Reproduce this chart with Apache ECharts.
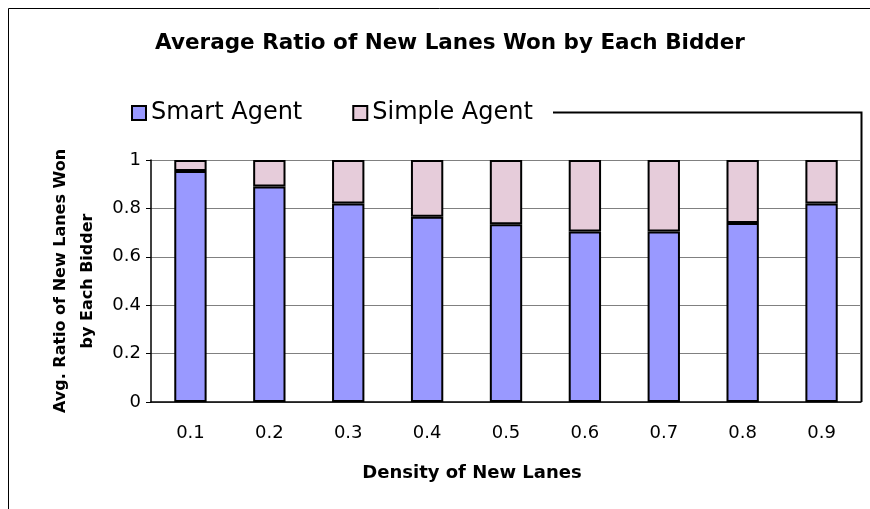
<!DOCTYPE html>
<html>
<head>
<meta charset="utf-8">
<script src="https://cdn.jsdelivr.net/npm/echarts@6/dist/echarts.min.js"></script>
<style>
html, body { margin: 0; padding: 0; background: #fff; }
#chart { width: 870px; height: 509px; }
</style>
</head>
<body>
<div id="chart"></div>
<script>
// densities on the x axis
const densities = ['0.1', '0.2', '0.3', '0.4', '0.5', '0.6', '0.7', '0.8', '0.9'];
// avg ratio of new lanes won
const smartAgent = [0.955, 0.89, 0.82, 0.765, 0.735, 0.705, 0.705, 0.74, 0.82];
const simpleAgent = [0.045, 0.11, 0.18, 0.235, 0.265, 0.295, 0.295, 0.26, 0.18];

const font = 'DejaVu Sans, Liberation Sans, sans-serif';

let myChart = echarts.init(document.getElementById('chart'));
let option = {
    animation: false,
    textStyle: { fontFamily: font, color: '#000' },
    title: {
        text: 'Average Ratio of New Lanes Won by Each Bidder',
        left: 445,
        top: 27,
        textAlign: 'center',
        textStyle: { fontFamily: font, fontSize: 21.5, fontWeight: 'bold', color: '#000' }
    },
    legend: {
        left: 126,
        top: 96,
        icon: 'rect',
        itemWidth: 14,
        itemHeight: 14,
        itemGap: 50,
        textStyle: { fontFamily: font, fontSize: 24, color: '#000' },
        data: ['Smart Agent', 'Simple Agent']
    },
    grid: { left: 151, right: 9, top: 160, bottom: 107 },
    xAxis: {
        type: 'category',
        data: densities,
        name: 'Density of New Lanes',
        nameLocation: 'middle',
        nameGap: 62,
        nameTextStyle: { fontFamily: font, fontSize: 18, fontWeight: 'bold', color: '#000', padding: [0, 68, 0, 0] },
        axisLine: { lineStyle: { color: '#000', width: 1.5 } },
        axisTick: { length: 5, lineStyle: { color: '#000' } },
        axisLabel: { fontFamily: font, fontSize: 18, color: '#000', margin: 22 }
    },
    yAxis: {
        type: 'value',
        min: 0,
        max: 1,
        interval: 0.2,
        name: 'Avg. Ratio of New Lanes Won\nby Each Bidder',
        nameLocation: 'middle',
        nameGap: 46,
        nameTextStyle: { fontFamily: font, fontSize: 16, fontWeight: 'bold', color: '#000', lineHeight: 27 },
        axisLine: { show: true, lineStyle: { color: '#000', width: 1.5 } },
        axisTick: { show: true, length: 5, lineStyle: { color: '#000' } },
        axisLabel: { fontFamily: font, fontSize: 18, color: '#000', margin: 10 },
        splitLine: { lineStyle: { color: '#808080', width: 1 } }
    },
    series: [
        {
            name: 'Smart Agent',
            type: 'bar',
            stack: 'total',
            barWidth: '41%',
            itemStyle: { color: '#9999ff', borderColor: '#000', borderWidth: 2 },
            data: smartAgent
        },
        {
            name: 'Simple Agent',
            type: 'bar',
            stack: 'total',
            barWidth: '41%',
            itemStyle: { color: '#e6ccda', borderColor: '#000', borderWidth: 2 },
            data: simpleAgent
        }
    ],
    graphic: [
        {
            type: 'rect',
            shape: { x: 8.5, y: 8.5, width: 900, height: 600 },
            style: { fill: 'none', stroke: '#000', lineWidth: 1 },
            silent: true
        },
        {
            type: 'polyline',
            shape: { points: [[553, 112.5], [861.5, 112.5], [861.5, 402]] },
            style: { fill: 'none', stroke: '#000', lineWidth: 2 },
            silent: true
        }
    ]
};
myChart.setOption(option);
</script>
</body>
</html>
